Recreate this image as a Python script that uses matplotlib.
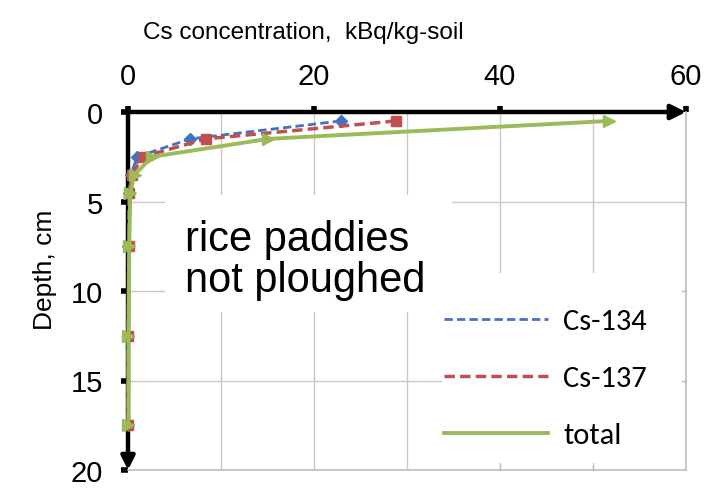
import matplotlib
matplotlib.use("Agg")
import matplotlib.pyplot as plt
import matplotlib.patches as patches
from matplotlib import font_manager

# depth of each layer centre (cm) and concentrations (kBq/kg-soil)
depth = [0.5, 1.5, 2.5, 3.5, 4.5, 7.5, 12.5, 17.5]
cs134 = [22.9, 6.7, 1.0, 0.3, 0.1, 0.05, 0.02, 0.02]
cs137 = [28.8, 8.4, 1.6, 0.4, 0.15, 0.08, 0.03, 0.02]
total = [51.7, 15.1, 2.6, 0.7, 0.25, 0.13, 0.05, 0.04]

x_ticks = [0, 20, 40, 60]
y_ticks = [0, 5, 10, 15, 20]
x_grid = [10, 20, 30, 40, 50]
y_grid = [5, 10, 15]

names = {f.name for f in font_manager.fontManager.ttflist}
narrow = "Liberation Sans Narrow" if "Liberation Sans Narrow" in names else "Liberation Sans"
calib = "Carlito" if "Carlito" in names else "Lato"

fig = plt.figure(figsize=(7.13, 4.89), dpi=100)
ax = fig.add_axes([128 / 713, 18 / 489, 558 / 713, 358 / 489])
ax.set_xlim(0, 60)
ax.set_ylim(20, 0)

grey = "#c9c9c9"
for gx in x_grid:
    ax.axvline(gx, color=grey, lw=1, zorder=0)
for gy in y_grid:
    ax.axhline(gy, color=grey, lw=1, zorder=0)

for side in ["top", "left"]:
    ax.spines[side].set_visible(False)
for side in ["right", "bottom"]:
    ax.spines[side].set_color("#bdbdbd")
    ax.spines[side].set_linewidth(1.2)

# white boxes of the text and the legend hide the grid
ax.add_patch(patches.Rectangle((4.0, 4.65), 30.8, 6.55, facecolor="white",
                               edgecolor="none", zorder=1))
ax.add_patch(patches.Rectangle((33.8, 9.0), 26.0, 10.6, facecolor="white",
                               edgecolor="none", zorder=1))

# small grey ticks of the frame
for gx in [40, 50]:
    ax.plot([gx, gx], [20, 19.75], color="#bdbdbd", lw=1, zorder=1.5, clip_on=False)
for gy in [10, 15]:
    ax.plot([60, 59.6], [gy, gy], color="#bdbdbd", lw=1, zorder=1.5, clip_on=False)

# black axes with arrows
ax.add_patch(patches.FancyArrowPatch((0, 0), (60, 0), arrowstyle="-|>",
                                     mutation_scale=22, lw=3.2, color="black",
                                     shrinkA=0, shrinkB=0, clip_on=False, zorder=2))
ax.add_patch(patches.FancyArrowPatch((0, 0), (0, 20), arrowstyle="-|>",
                                     mutation_scale=20, lw=3.2, color="black",
                                     shrinkA=0, shrinkB=0, clip_on=False, zorder=2))

ax.plot(cs134, depth, color="#4472C4", ls=(0, (3, 1.5)), lw=2, marker="D",
        ms=6, label="Cs-134", clip_on=False, zorder=3)
ax.plot(cs137, depth, color="#C0504D", ls=(0, (3, 1.5)), lw=2.5, marker="s",
        ms=7, label="Cs-137", clip_on=False, zorder=3)
ax.plot(total, depth, color="#9BBB59", ls="-", lw=2.8, marker=">",
        ms=9, label="total", clip_on=False, zorder=4)

ax.xaxis.tick_top()
ax.set_xticks(x_ticks)
ax.set_yticks(y_ticks)
ax.tick_params(axis="x", direction="out", length=4, width=4, color="black",
               pad=12, labelsize=21)
ax.tick_params(axis="y", direction="out", length=5, width=4, color="black",
               pad=13, labelsize=21)
for lab in ax.get_xticklabels() + ax.get_yticklabels():
    lab.set_family(narrow)

fig.text(303 / 713, 1 - 33 / 489, "Cs concentration,  kBq/kg-soil",
         family=narrow, fontsize=17.5, ha="center", va="center")
fig.text(45 / 713, 1 - 270 / 489, "Depth, cm", family=narrow, fontsize=19,
         rotation=90, ha="center", va="center")

ax.text(6.1, 8.25, "rice paddies\nnot ploughed", family="Liberation Sans",
        fontsize=30, ha="left", va="center", linespacing=1.05, zorder=5)

leg = ax.legend(loc="upper left", bbox_to_anchor=(34.0, 10.95),
                bbox_transform=ax.transData, frameon=False, borderpad=0,
                borderaxespad=0, handlelength=3.4, handletextpad=0.5,
                labelspacing=1.0, prop={"family": calib, "size": 22})
for line in leg.get_lines():
    line.set_marker("None")

fig.savefig("out.png", dpi=100)
